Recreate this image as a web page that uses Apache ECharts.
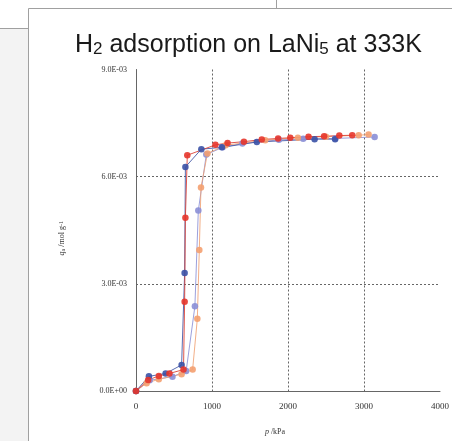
<!DOCTYPE html>
<html>
<head>
<meta charset="utf-8">
<script src="https://cdn.jsdelivr.net/npm/echarts@6/dist/echarts.min.js"></script>
<style>
html,body{margin:0;padding:0;background:#fff;}
#chart{width:452px;height:441px;}
</style>
</head>
<body>
<div id="chart"></div>
<script>
// Data (pressure in kPa, amount adsorbed in mol g^-1)
const blueP = [0, 170, 390, 600, 640, 650, 860, 1130, 1590, 2350, 2620];
const blueQ = [0, 0.00041, 0.00049, 0.00073, 0.0033, 0.00627, 0.00677, 0.00682, 0.00697, 0.00705, 0.00705];

const redP = [0, 160, 300, 440, 625, 640, 650, 675, 1045, 1205, 1420, 1655, 1870, 2030, 2270, 2475, 2675, 2845];
const redQ = [0, 0.00031, 0.00042, 0.00049, 0.0006, 0.0025, 0.00485, 0.0066, 0.00689, 0.00694, 0.00698, 0.00704, 0.00707, 0.00709, 0.00712, 0.00713, 0.00715, 0.00716];

const lavP = [0, 180, 480, 660, 775, 820, 925, 1140, 1400, 1880, 2200, 2620, 3140];
const lavQ = [0, 0.0003, 0.0004, 0.00056, 0.00237, 0.00505, 0.00662, 0.00682, 0.00693, 0.00703, 0.00706, 0.00707, 0.00711];

const orgP = [0, 140, 300, 600, 745, 807, 833, 855, 940, 1180, 1700, 2130, 2500, 2930, 3060];
const orgQ = [0, 0.00022, 0.00033, 0.00047, 0.0006, 0.00202, 0.00395, 0.0057, 0.00665, 0.00688, 0.00702, 0.00709, 0.00712, 0.00716, 0.00718];

const xTicks = [0, 1000, 2000, 3000, 4000];
const yTicks = [0, 0.003, 0.006, 0.009];

function pairs(P, Q) { return P.map((p, i) => [p, Q[i]]); }
function sci(v) {
  const s = v.toExponential(1).split('e');
  const sign = s[1][0] === '-' ? '-' : '+';
  const e = s[1].replace(/^[+-]/, '');
  return s[0] + 'E' + sign + (e.length < 2 ? '0' + e : e);
}

function mkSeries(name, P, Q, color, z) {
  return {
    name: name, type: 'scatter', data: pairs(P, Q), z: z,
    symbol: 'circle', symbolSize: 6.5,
    itemStyle: { color: color, opacity: 0.9 }
  };
}
function mkLine(name, P, Q, color, z) {
  return {
    name: name + '_line', type: 'line', data: pairs(P, Q), z: z,
    showSymbol: false, symbol: 'none',
    lineStyle: { color: color, width: 1, opacity: 0.85 },
    silent: true
  };
}

const chart = echarts.init(document.getElementById('chart'), null, { renderer: 'canvas' });
const serif = '"Liberation Serif", "DejaVu Serif", serif';
const sans = '"Liberation Sans", Arial, sans-serif';

chart.setOption({
  animation: false,
  backgroundColor: '#fff',
  graphic: [
    { type: 'rect', shape: { x: 0, y: 28, width: 28, height: 413 }, style: { fill: '#f3f3f3' }, z: -10 },
    { type: 'line', shape: { x1: 28.5, y1: 8.5, x2: 452, y2: 8.5 }, style: { stroke: '#a0a0a0', lineWidth: 1 } },
    { type: 'line', shape: { x1: 28.5, y1: 8.5, x2: 28.5, y2: 441 }, style: { stroke: '#a0a0a0', lineWidth: 1 } },
    { type: 'line', shape: { x1: 0, y1: 28.5, x2: 28, y2: 28.5 }, style: { stroke: '#a0a0a0', lineWidth: 1 } },
    { type: 'line', shape: { x1: 276.5, y1: 0, x2: 276.5, y2: 8 }, style: { stroke: '#a0a0a0', lineWidth: 1 } }
  ],
  title: {
    text: '{a|H}{s|2}{a| adsorption on LaNi}{s|5}{a| at 333K}',
    left: 70, top: 23,
    textStyle: {
      fontWeight: 'normal',
      rich: {
        a: { fontFamily: sans, fontSize: 25, fontWeight: 'normal', color: '#1a1a1a', lineHeight: 30, verticalAlign: 'bottom' },
        s: { fontFamily: sans, fontSize: 17, fontWeight: 'normal', color: '#1a1a1a', lineHeight: 17, verticalAlign: 'bottom' }
      }
    }
  },
  grid: { left: 136, top: 69.5, right: 12, bottom: 45, containLabel: false },
  xAxis: {
    type: 'value', min: xTicks[0], max: xTicks[xTicks.length - 1], interval: 1000,
    name: '{i|p} /kPa', nameLocation: 'middle', nameGap: 37,
    nameTextStyle: {
      padding: [0, 0, 0, -26],
      rich: {
        i: { fontFamily: serif, fontSize: 8, fontStyle: 'italic', color: '#333' }
      },
      fontFamily: serif, fontSize: 8, color: '#333'
    },
    axisLine: { show: true, lineStyle: { color: '#666', width: 1 } },
    axisTick: { show: false },
    axisLabel: { fontFamily: serif, fontSize: 9, color: '#333', margin: 11, formatter: v => String(v) },
    splitLine: { show: true, showMinLine: false, showMaxLine: false, lineStyle: { color: '#666', type: [2, 2], width: 1 } }
  },
  yAxis: {
    type: 'value', min: yTicks[0], max: yTicks[yTicks.length - 1], interval: 0.003,
    name: '{i|q}{sub|a} /mol g{sup|-1}', nameLocation: 'middle', nameGap: 70, nameRotate: 90,
    nameTextStyle: {
      fontFamily: serif, fontSize: 8, color: '#333', padding: [0, 16, 0, 0],
      rich: {
        i: { fontFamily: serif, fontSize: 8, fontStyle: 'italic', color: '#333' },
        sub: { fontFamily: serif, fontSize: 6, color: '#333', verticalAlign: 'bottom' },
        sup: { fontFamily: serif, fontSize: 6, color: '#333', verticalAlign: 'top' }
      }
    },
    axisLine: { show: true, lineStyle: { color: '#666', width: 1 } },
    axisTick: { show: false },
    axisLabel: { fontFamily: serif, fontSize: 8, color: '#333', margin: 9, formatter: sci },
    splitLine: { show: true, showMinLine: false, showMaxLine: false, lineStyle: { color: '#666', type: [2, 2], width: 1 } }
  },
  series: [
    mkLine('lav', lavP, lavQ, '#8b8fd6', 2),
    mkLine('org', orgP, orgQ, '#f0a173', 2),
    mkLine('blue', blueP, blueQ, '#3d52a3', 2),
    mkLine('red', redP, redQ, '#d9392e', 2),
    mkSeries('lav', lavP, lavQ, '#8b8fd6', 3),
    mkSeries('org', orgP, orgQ, '#f4a070', 3),
    mkSeries('blue', blueP, blueQ, '#3a51a6', 4),
    mkSeries('red', redP, redQ, '#e5352b', 5)
  ]
});
</script>
</body>
</html>
